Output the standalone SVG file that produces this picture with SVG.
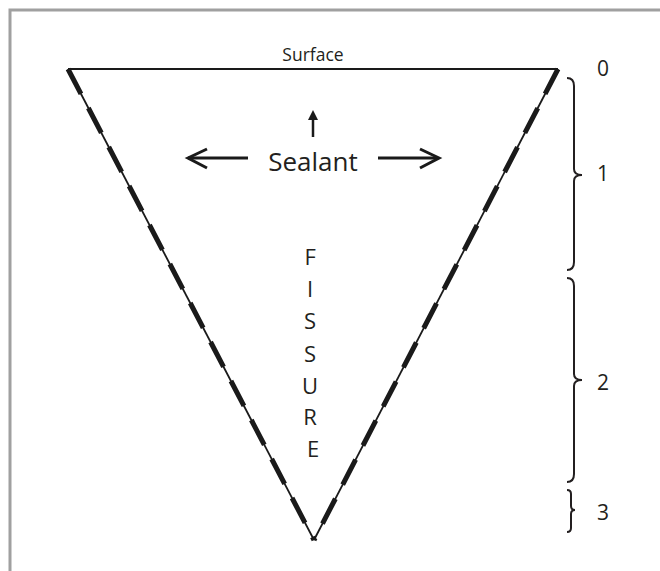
<svg xmlns="http://www.w3.org/2000/svg" width="660" height="571" viewBox="0 0 660 571">
<style>
  .t { font-family: "Open Sans", "Noto Sans", sans-serif; font-weight: 500; fill: #231f20; }
  .edge { stroke: #1a1a1a; stroke-width: 1.8; fill: none; }
  .dash { stroke: #1a1a1a; stroke-width: 5; fill: none; stroke-dasharray: 28 16; }
  .brace { stroke: #231f20; stroke-width: 2; fill: none; }
  .arr { stroke: #1a1a1a; stroke-width: 3; fill: none; }
</style>
<rect x="0" y="0" width="660" height="571" fill="#ffffff"/>
<rect id="frame" x="10" y="10" width="700" height="620" fill="none" stroke="#a0a0a0" stroke-width="3"/>

<g id="fissure">
  <line x1="68" y1="69" x2="558" y2="69" stroke="#1a1a1a" stroke-width="2.2"/>
  <line class="edge" x1="68" y1="69" x2="314" y2="540"/>
  <line class="edge" x1="558" y1="69" x2="314" y2="540"/>
  <line class="dash" x1="68" y1="69" x2="314" y2="540"/>
  <line class="dash" x1="558" y1="69" x2="314" y2="540"/>
</g>

<g id="surface-label">
  <text class="t" x="313" y="61" font-size="17.5" text-anchor="middle">Surface</text>
</g>

<g id="sealant">
  <text class="t" x="313" y="171" font-size="26" text-anchor="middle">Sealant</text>
</g>

<g id="connectors">
  <line x1="313" y1="118" x2="313" y2="137" stroke="#1a1a1a" stroke-width="2.5"/>
  <polygon points="313,110 308,120 318,120" fill="#1a1a1a"/>
  <line class="arr" x1="248" y1="158" x2="188" y2="158"/>
  <polyline class="arr" points="207,149 188,158 207,168"/>
  <line class="arr" x1="378" y1="158" x2="438" y2="158"/>
  <polyline class="arr" points="420,149 439,158 420,168"/>
</g>

<g id="fissure-label">
  <text class="t" font-size="22" text-anchor="middle">
    <tspan x="313" y="265">F</tspan>
    <tspan x="313" y="297">I</tspan>
    <tspan x="313" y="329">S</tspan>
    <tspan x="313" y="362">S</tspan>
    <tspan x="313" y="394">U</tspan>
    <tspan x="313" y="425">R</tspan>
    <tspan x="313" y="457">E</tspan>
  </text>
</g>

<g id="level-0">
  <text class="t" x="603" y="76" font-size="21" text-anchor="middle">0</text>
</g>
<g id="level-1">
  <path class="brace" d="M567,78 Q574,78 574,86 L574,169 Q574,175 582,175 Q574,175 574,181 L574,262 Q574,270 567,270"/>
  <text class="t" x="603" y="181" font-size="21" text-anchor="middle">1</text>
</g>
<g id="level-2">
  <path class="brace" d="M567,278 Q574,278 574,286 L574,374 Q574,380 582,380 Q574,380 574,386 L574,474 Q574,482 567,482"/>
  <text class="t" x="603" y="390" font-size="21" text-anchor="middle">2</text>
</g>
<g id="level-3">
  <path class="brace" d="M567,490 Q571,490 571,494 L571,506 Q571,510 575,510 Q571,510 571,514 L571,528 Q571,532 567,532"/>
  <text class="t" x="603" y="520" font-size="21" text-anchor="middle">3</text>
</g>
</svg>
